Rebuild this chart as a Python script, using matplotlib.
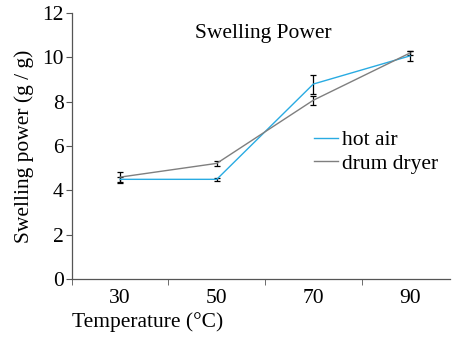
import matplotlib
matplotlib.use("Agg")
import matplotlib.pyplot as plt
from matplotlib.lines import Line2D

plt.rcParams['font.family'] = ['Liberation Serif', 'DejaVu Serif']

temps = [30, 50, 70, 90]
tick_labels = ["30", "50", "70", "90"]
hot_air = [4.5, 4.5, 8.8, 10.07]
hot_air_err = [0.1, 0.06, 0.43, 0.22]
drum = [4.6, 5.22, 8.07, 10.2]
drum_err = [0.25, 0.12, 0.2, 0.1]

FS = 15.5
c_hot = '#29abe2'
c_drum = '#7f7f7f'

fig = plt.figure(figsize=(4.55, 3.37), dpi=100)
ax = fig.add_axes([0.158, 0.172, 0.831, 0.789])

ax.errorbar(temps, hot_air, yerr=hot_air_err, color=c_hot, lw=1.0,
            ecolor='black', elinewidth=0.9, capsize=2.5, capthick=0.9)
ax.errorbar(temps, drum, yerr=drum_err, color=c_drum, lw=1.0,
            ecolor='black', elinewidth=0.9, capsize=2.5, capthick=0.9)

ax.set_xlim(20, 98.3)
ax.set_ylim(0, 12)
ax.set_yticks(range(0, 13, 2))
ax.set_xticks(temps)
ax.set_xticklabels(tick_labels)
ax.set_xticks([20, 40, 60, 80], minor=True)
ax.tick_params(axis='x', which='major', length=0, labelsize=FS, pad=7)
ax.tick_params(axis='x', which='minor', length=4, direction='out', color='#555555')
ax.tick_params(axis='y', length=4, direction='out', labelsize=FS, color='#555555', pad=2)

for s in ['top', 'right']:
    ax.spines[s].set_visible(False)
for s in ['left', 'bottom']:
    ax.spines[s].set_color('#555555')
    ax.spines[s].set_linewidth(0.9)

ax.text(0.505, 0.925, 'Swelling Power', transform=ax.transAxes, ha='center', va='center', fontsize=FS)
ax.set_ylabel('Swelling power (g / g)', fontsize=FS, labelpad=6)
fig.text(72/455, 1 - 322/337, 'Temperature (°C)', ha='left', va='center', fontsize=FS)

handles = [Line2D([], [], color=c_hot, lw=1.0), Line2D([], [], color=c_drum, lw=1.0)]
ax.legend(handles, ['hot air', 'drum dryer'], loc='upper left', bbox_to_anchor=(0.612, 0.6),
          frameon=False, fontsize=FS, handlelength=1.1, handletextpad=0.2,
          labelspacing=0.15, borderpad=0)

fig.savefig('out.png', dpi=100)
